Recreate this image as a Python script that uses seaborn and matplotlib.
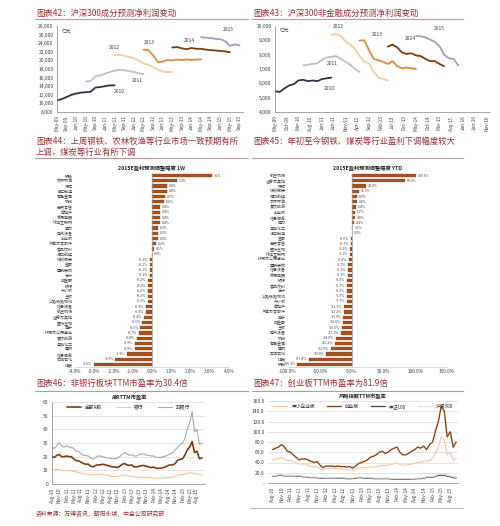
import numpy as np
import pandas as pd
import matplotlib
matplotlib.use("Agg")
import matplotlib.pyplot as plt
import matplotlib.dates as mdates
import seaborn as sns

sns.set_theme(style="white")
plt.rcParams["font.family"] = ["Noto Sans CJK SC", "DejaVu Sans"]
plt.rcParams["axes.unicode_minus"] = False

# ---------------------------------------------------------------------------
# Data: consensus net profit forecasts (2-monthly points), 亿元
# ---------------------------------------------------------------------------
years = ["2010", "2011", "2012", "2013", "2014", "2015"]
year_starts = ["2009-05-01", "2010-05-01", "2011-05-01", "2012-05-01", "2013-05-01", "2014-05-01"]

hs300_2010 = [10700, 11000, 11500, 12000, 12300, 12500, 12600, 12700, 13700, 13800, 14000, 14200, 14200]
hs300_2011 = [15100, 15200, 16300, 16500, 16900, 17300, 17600, 17800, 17700, 17500, 17300, 17000, 16800]
hs300_2012 = [21200, 21300, 21100, 20800, 20500, 20000, 19300, 19000, 18500, 17800, 17400, 17300, 17300]
hs300_2013 = [22500, 22400, 21200, 19600, 19700, 20100, 20000, 20200, 20100, 20200, 20100, 20200, 20200]
hs300_2014 = [23000, 23100, 22800, 22600, 22900, 22700, 22700, 22500, 22400, 22300, 22200, 22100, 21900]
hs300_2015 = [25400, 25300, 25200, 25000, 24900, 24500, 23400, 23700, 23500]

nonfin_2010 = [5450, 5400, 5650, 5850, 5950, 6200, 6250, 6150, 6200, 6150, 6300, 6350, 6400]
nonfin_2011 = [7250, 7300, 7350, 7400, 7650, 7800, 7850, 7900, 7700, 7500, 7300, 7000, 6800]
nonfin_2012 = [9380, 9450, 9300, 8900, 8700, 8400, 7900, 7500, 7400, 6800, 6400, 6300, 6200]
nonfin_2013 = [8980, 9000, 8300, 7700, 7600, 7500, 7350, 7550, 7200, 7050, 7100, 7050, 7000]
nonfin_2014 = [8560, 8700, 8500, 8150, 8050, 8100, 7950, 7900, 7700, 7550, 7550, 7350, 7200]
nonfin_2015 = [9300, 9280, 9200, 9050, 8900, 8600, 8000, 7750, 7700, 7250]

# year label positions (date, value)
hs300_label_dates = ["2011-07-01", "2012-02-15", "2011-05-01", "2012-07-15", "2013-12-01", "2015-04-15"]
hs300_label_vals = [12670, 15240, 22940, 24100, 24580, 27200]
nonfin_label_dates = ["2011-04-10", "2011-05-15", "2011-07-25", "2012-12-15", "2014-02-15", "2015-03-05"]
nonfin_label_vals = [5670, 7360, 10000, 9440, 9120, 9840]

# ---------------------------------------------------------------------------
# Data: 2015E earnings forecast revisions
# ---------------------------------------------------------------------------
cats_1w = ["钢铁", "农林牧渔", "保险", "轻工制造", "有色金属", "机械", "商贸零售", "房地产",
           "家用电器", "传媒互联网", "电力", "电气设备", "创业板", "汽车及零部件", "食品饮料",
           "港口航运", "纺织服装", "金融", "建筑装饰", "合计", "非金融", "银行", "中小板", "主板",
           "公路铁路物流", "信息设备", "航空机场", "证券及其他", "医药生物", "电子",
           "环保及公用事业", "餐饮旅游", "基础化工", "建材", "信息服务", "石油石化", "煤炭"]
vals_1w = [3.1, 1.3, 0.8, 0.8, 0.7, 0.6, 0.4, 0.4, 0.4, 0.4, 0.3, 0.3, 0.3, 0.2, 0.1, 0.0,
           -0.1, -0.1, -0.1, -0.1, -0.2, -0.2, -0.2, -0.2, -0.2, -0.3, -0.3, -0.4, -0.5, -0.6,
           -0.7, -0.8, -0.9, -0.9, -1.3, -1.9, -3.0]

cats_ytd = ["航空机场", "证券及其他", "保险", "纺织服装", "港口航运", "农林牧渔", "餐饮旅游",
            "创业板", "信息服务", "电力", "基础化工", "轻工制造", "金融", "商贸零售", "医药生物",
            "传媒互联网", "环保及公用事业", "建筑装饰", "信息设备", "家用电器", "银行", "食品饮料",
            "合计", "公路铁路物流", "中小板", "房地产", "汽车及零部件", "电子", "非金融", "主板",
            "电气设备", "机械", "有色金属", "建材", "石油石化", "煤炭", "钢铁"]
vals_ytd = [100.5, 83.5, 23.0, 11.9, 8.9, 8.0, 6.4, 5.7, 4.8, 4.4, 1.1, 0.3, -0.6, -0.7, -2.2,
            -3.1, -3.4, -5.7, -6.1, -6.3, -6.5, -6.7, -6.9, -7.3, -7.7, -11.7, -12.2, -13.0,
            -13.6, -15.6, -17.1, -24.0, -26.2, -32.0, -39.8, -67.4, -85.3]

# ---------------------------------------------------------------------------
# Data: TTM P/E, monthly from Aug-10
# ---------------------------------------------------------------------------
pe_start = "2010-08-01"
pe_all_a = [20, 19.5, 21, 21.5, 20, 20, 20.5, 20, 20, 18.5, 17, 17, 16, 15, 14.5, 14.5, 13, 12.5,
            13.5, 14, 14, 14.5, 14, 13.5, 13, 12.5, 12.5, 12, 13, 14.5, 15, 14, 13.5, 14, 12.5,
            12.5, 13, 13.5, 13.5, 13, 12.5, 12, 12.5, 11.5, 11.5, 11.5, 12, 12.5, 13.5, 14, 14,
            15, 17.5, 18, 18.5, 21, 25, 27, 31, 23, 24, 18.5, 19]
pe_bank = [10.5, 10.5, 10.8, 10.5, 9.8, 9.8, 9.8, 9.8, 9.5, 9.2, 8.8, 8.5, 8.0, 7.5, 7.2, 7.2,
           6.8, 6.5, 7.0, 7.2, 7.0, 6.8, 6.5, 6.2, 5.8, 5.5, 5.5, 5.5, 6.0, 6.5, 6.5, 6.0, 5.8,
           5.8, 5.2, 5.0, 5.0, 5.0, 5.0, 5.0, 4.8, 4.5, 4.5, 4.3, 4.3, 4.3, 4.5, 4.5, 4.8, 4.8,
           5.0, 5.5, 6.5, 7.0, 7.0, 7.2, 8.0, 8.0, 8.2, 7.5, 7.5, 6.8, 6.5]
pe_nonbank = [27, 26, 28, 30, 28, 27, 28, 27, 27, 26, 24, 24, 22, 21, 21, 20.5, 19, 18, 19.5,
              20.5, 20.5, 20, 19.5, 19, 19, 18.5, 18.5, 19, 20, 22, 23, 22, 21, 21.5, 20.5,
              20.5, 21.5, 22, 22, 21, 21, 20.5, 20.5, 19.5, 19.5, 19.5, 20, 20.5, 21.5, 22, 23,
              25, 27, 29, 30, 33, 40, 45, 53, 38, 40, 29, 30]

pe_sme = [45, 47, 48, 50, 47, 44, 44, 42, 40, 37, 37, 37, 35, 32, 31, 32, 28, 26, 28, 29, 29, 29,
          28, 27, 26, 26, 26, 24, 26, 29, 30, 30, 30, 32, 31, 32, 33, 35, 34, 35, 36, 38, 39, 36,
          35, 35, 36, 37, 38, 40, 41, 42, 42, 45, 48, 58, 70, 90, 85, 55, 60, 45, 48]
pe_chinext = [65, 68, 70, 75, 70, 62, 60, 55, 50, 45, 47, 47, 45, 42, 40, 42, 35, 30, 33, 33, 33,
              32, 33, 32, 32, 31, 32, 29, 33, 38, 40, 42, 45, 50, 52, 55, 60, 62, 58, 60, 65, 68,
              70, 60, 55, 55, 58, 62, 65, 70, 68, 72, 65, 75, 80, 100, 120, 150, 140, 90, 100, 70, 80]
pe_csi100 = [14, 13.5, 15, 15, 14, 14, 14, 14, 13.5, 13, 12.5, 12, 11, 10.5, 10.5, 10.5, 9.5, 9.5,
             10, 10, 10, 10, 9.5, 9, 9, 8.5, 8.5, 8.5, 9.5, 10.5, 10.5, 9.5, 9.5, 9.5, 8.5, 8.5,
             8.5, 8.5, 8.5, 8.5, 8, 7.5, 7.5, 7.5, 7.5, 7.5, 7.5, 8, 8, 8.5, 8.5, 9, 11.5, 11,
             11.5, 12.5, 15, 15, 15.5, 13, 12.5, 10.5, 10]
pe_hs300 = [15, 14.5, 16, 16, 15, 15, 15, 15, 14.5, 14, 13.5, 13, 12, 11.5, 11.5, 11.5, 10.5, 10.5,
            11, 11, 11, 11, 10.5, 10, 10, 9.5, 9.5, 9.5, 10.5, 11.5, 11.5, 10.5, 10.5, 10.5, 9.5,
            9.5, 9.5, 9.5, 9.5, 9.5, 9, 8.5, 8.5, 8.5, 8.5, 8.5, 8.5, 9, 9, 9.5, 9.5, 10, 12.5, 12,
            12.5, 14, 17, 17, 17.5, 14.5, 14, 12, 11.5]

# ---------------------------------------------------------------------------
# Styling
# ---------------------------------------------------------------------------
W, H = 500, 526
TITLE_C = "#9b2d30"
RULE_C = "#b09a9a"
BAR_C = "#a5531f"
TXT_C = "#404040"
year_colors = ["#2f3347", "#bfbfbf", "#f6cba2", "#d98a3a", "#7b3c12", "#a39cb8"]


def rect(x0, y0, x1, y1):
    """pixel box (top-left origin) -> figure fraction rect"""
    return [x0 / W, 1 - y1 / H, (x1 - x0) / W, (y1 - y0) / H]


def fig_text(fig, x, y, s, **kw):
    fig.text(x / W, 1 - y / H, s, **kw)


def fig_rule(fig, x0, x1, y, color=RULE_C, lw=0.8):
    fig.add_artist(plt.Line2D([x0 / W, x1 / W], [1 - y / H, 1 - y / H],
                              color=color, lw=lw, transform=fig.transFigure))


def style_date_axis(ax, ticks, fmt="%b-%y"):
    ax.set_xticks(pd.to_datetime(ticks))
    ax.xaxis.set_major_formatter(mdates.DateFormatter(fmt))
    ax.tick_params(axis="x", rotation=90, labelsize=3.4, length=1.5, width=0.4, pad=1,
                   labelcolor=TXT_C)
    ax.tick_params(axis="y", labelsize=3.6, length=1.5, width=0.4, pad=1, labelcolor=TXT_C)
    for side in ["top", "right"]:
        ax.spines[side].set_visible(False)
    for side in ["left", "bottom"]:
        ax.spines[side].set_color("#808080")
        ax.spines[side].set_linewidth(0.5)
    ax.set_xlabel("")
    ax.set_ylabel("")


def plot_forecast_lines(ax, series, label_dates, label_vals, unit_pos):
    for yr, start, vals, col in zip(years, year_starts, series, year_colors):
        dates = pd.date_range(start, periods=len(vals), freq="2MS")
        sns.lineplot(x=dates, y=vals, ax=ax, color=col, lw=1.3)
    for yr, d, v in zip(years, label_dates, label_vals):
        ax.text(pd.Timestamp(d), v, yr, fontsize=3.6, color=TXT_C, ha="center", va="center")
    ax.text(pd.Timestamp(unit_pos[0]), unit_pos[1], "亿元", fontsize=3.4, color=TXT_C,
            ha="left", va="center")


def plot_revisions(ax, cats, vals, xlim, xticks, title):
    df = pd.DataFrame({"cat": cats, "val": vals})
    sns.barplot(data=df, x="val", y="cat", orient="h", color=BAR_C, ax=ax,
                width=0.62, saturation=1, edgecolor="#6b3412", linewidth=0.2)
    ax.set_xlim(*xlim)
    ax.set_xticks(xticks)
    ax.set_xticklabels([f"{t:.1f}%" for t in xticks])
    ax.tick_params(axis="x", labelsize=3.4, length=0, pad=1.5, labelcolor=TXT_C)
    ax.tick_params(axis="y", labelsize=2.9, length=0, pad=1.5, labelcolor=TXT_C)
    span = xlim[1] - xlim[0]
    for i, v in enumerate(vals):
        if v >= 0:
            ax.text(v + span * 0.012, i, f"{v:.1f}%", fontsize=2.5, va="center", ha="left",
                    color=TXT_C)
        else:
            ax.text(v - span * 0.012, i, f"{v:.1f}%", fontsize=2.5, va="center", ha="right",
                    color=TXT_C)
    ax.axvline(0, color="#9a9a9a", lw=0.5)
    for side in ["top", "right", "left"]:
        ax.spines[side].set_visible(False)
    ax.spines["bottom"].set_color("#c0c0c0")
    ax.spines["bottom"].set_linewidth(0.4)
    ax.set_xlabel("")
    ax.set_ylabel("")
    ax.set_title(title, fontsize=3.8, fontweight="bold", pad=2)


# ---------------------------------------------------------------------------
# Figure
# ---------------------------------------------------------------------------
fig = plt.figure(figsize=(5.0, 5.26), dpi=100)

# section titles
fig_text(fig, 36, 13, "图表42：沪深300成分预测净利润变动", fontsize=6.0, color=TITLE_C, va="center")
fig_text(fig, 253, 13, "图表43：沪深300非金融成分预测净利润变动", fontsize=6.0, color=TITLE_C, va="center")
fig_rule(fig, 35, 248, 19)
fig_rule(fig, 252, 463, 19)

fig_text(fig, 36, 141, "图表44：上周钢铁、农林牧渔等行业市场一致预期有所", fontsize=6.0,
         color=TITLE_C, va="center")
fig_text(fig, 36, 152, "上调，煤炭等行业有所下调", fontsize=6.0, color=TITLE_C, va="center")
fig_text(fig, 253, 141, "图表45：年初至今钢铁、煤炭等行业盈利下调幅度较大", fontsize=6.0,
         color=TITLE_C, va="center")
fig_rule(fig, 35, 248, 158)
fig_rule(fig, 252, 463, 158)

fig_text(fig, 36, 383, "图表46：非银行板块TTM市盈率为30.4倍", fontsize=6.0, color=TITLE_C, va="center")
fig_text(fig, 253, 383, "图表47：创业板TTM市盈率为81.9倍", fontsize=6.0, color=TITLE_C, va="center")
fig_rule(fig, 35, 248, 391)
fig_rule(fig, 252, 463, 391)
fig_rule(fig, 250, 463, 508, color="#a0a0a0", lw=0.6)

fig_text(fig, 36, 514, "资料来源：万得资讯，朝阳永续，中金公司研究部", fontsize=4.2, color=TITLE_C,
         va="center")

# chart 42 / 43
ax42 = fig.add_axes(rect(57, 26, 243, 112))
plot_forecast_lines(ax42, [hs300_2010, hs300_2011, hs300_2012, hs300_2013, hs300_2014, hs300_2015],
                    hs300_label_dates, hs300_label_vals, ("2009-07-01", 26700))
ax42.set_xlim(pd.Timestamp("2009-05-01"), pd.Timestamp("2015-10-15"))
ax42.set_ylim(8000, 28000)
ax42.set_yticks(range(8000, 28001, 2000))
ax42.set_yticklabels([f"{v:,}" for v in range(8000, 28001, 2000)])
style_date_axis(ax42, pd.date_range("2009-05-01", "2015-09-01", freq="4MS"))

ax43 = fig.add_axes(rect(275, 26, 490, 112))
plot_forecast_lines(ax43, [nonfin_2010, nonfin_2011, nonfin_2012, nonfin_2013, nonfin_2014, nonfin_2015],
                    nonfin_label_dates, nonfin_label_vals, ("2009-07-01", 9720))
ax43.set_xlim(pd.Timestamp("2009-05-01"), pd.Timestamp("2016-12-15"))
ax43.set_ylim(4000, 10000)
ax43.set_yticks(range(4000, 10001, 1000))
ax43.set_yticklabels([f"{v:,}" for v in range(4000, 10001, 1000)])
style_date_axis(ax43, pd.date_range("2009-05-01", "2016-11-01", freq="5MS"))

# chart 44 / 45
ax44 = fig.add_axes(rect(75, 173, 229, 367))
plot_revisions(ax44, cats_1w, vals_1w, (-4, 4), np.arange(-4, 4.01, 1.0), "2015E盈利预测调整幅度 1W")

ax45 = fig.add_axes(rect(288, 173, 447, 367))
plot_revisions(ax45, cats_ytd, vals_ytd, (-100, 150), np.arange(-100, 150.1, 50),
               "2015E盈利预测调整幅度 YTD")

# chart 46
pe_ticks = pd.date_range("2010-08-01", "2015-08-01", freq="3MS")

ax46 = fig.add_axes(rect(52, 402, 205, 484))
for vals, col, lw, lab in [(pe_all_a, "#7b3c12", 1.2, "全部A股"),
                           (pe_bank, "#f5c08a", 0.7, "银行"),
                           (pe_nonbank, "#a6a6a6", 0.8, "非银行")]:
    dates = pd.date_range(pe_start, periods=len(vals), freq="MS")
    sns.lineplot(x=dates, y=vals, ax=ax46, color=col, lw=lw, label=lab)
ax46.set_xlim(pd.Timestamp("2010-08-01"), pd.Timestamp("2015-11-10"))
ax46.set_ylim(0, 60)
ax46.set_yticks(range(0, 61, 10))
ax46.yaxis.grid(True, color="#d0d0d0", lw=0.4)
style_date_axis(ax46, pe_ticks)
ax46.legend(loc="upper center", bbox_to_anchor=(0.5, 1.0), ncol=3, fontsize=3.4, frameon=False,
            handlelength=3, columnspacing=3, borderaxespad=0.2)
ax46.set_title("A股TTM市盈率", fontsize=3.8, fontweight="bold", pad=2)

# chart 47
ax47 = fig.add_axes(rect(268, 401, 458, 483))
for vals, col, lw, lab in [(pe_sme, "#f5c8a0", 0.8, "中小企业板"),
                           (pe_chinext, "#8a4416", 1.0, "创业板"),
                           (pe_csi100, "#3a3f58", 0.9, "中证100"),
                           (pe_hs300, "#e6ddd3", 0.8, "沪深300")]:
    dates = pd.date_range(pe_start, periods=len(vals), freq="MS")
    sns.lineplot(x=dates, y=vals, ax=ax47, color=col, lw=lw, label=lab)
ax47.set_xlim(pd.Timestamp("2010-06-15"), pd.Timestamp("2015-10-20"))
ax47.set_ylim(0, 160)
ax47.set_yticks(range(0, 161, 20))
ax47.set_yticklabels(["-"] + [f"{v:.1f}" for v in range(20, 161, 20)])
ax47.yaxis.grid(True, color="#d0d0d0", lw=0.4)
style_date_axis(ax47, pe_ticks)
ax47.spines["left"].set_visible(False)
ax47.legend(loc="upper center", bbox_to_anchor=(0.5, 1.0), ncol=4, fontsize=3.4, frameon=False,
            handlelength=3, columnspacing=2.5, borderaxespad=0.2)
ax47.set_title("风格指数TTM市盈率", fontsize=3.8, fontweight="bold", pad=2)

fig.savefig("out.png", dpi=100)
